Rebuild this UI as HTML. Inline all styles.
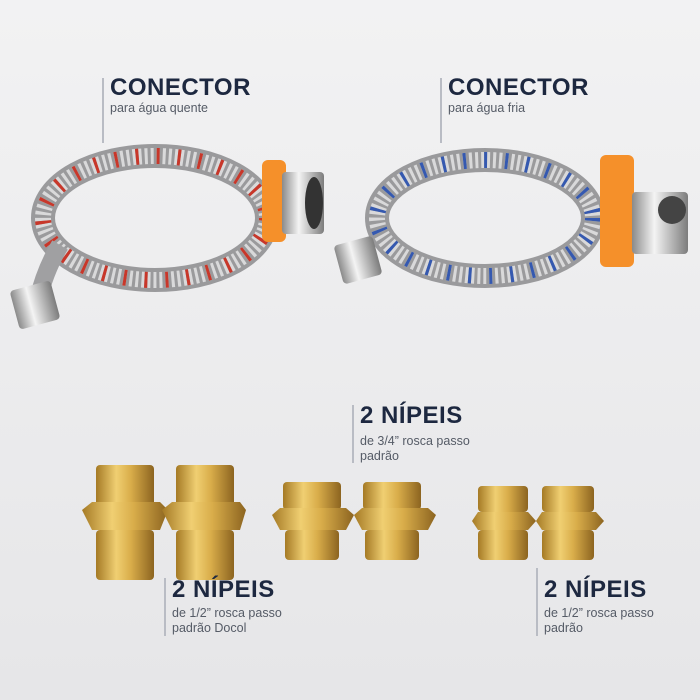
<!DOCTYPE html>
<html><head><meta charset="utf-8"><style>
html,body{margin:0;padding:0}
body{width:700px;height:700px;overflow:hidden;background:#ededee;position:relative;font-family:"Liberation Sans",sans-serif}
svg{position:absolute;left:0;top:0}
.t{position:absolute;color:#1d2840;font-weight:bold;font-size:24px;letter-spacing:0.5px;line-height:1}
.s{position:absolute;color:#555b66;font-size:12.5px;line-height:15px}
.l{position:absolute;width:1.5px;background:#b9bcc4}
</style></head><body>
<svg width="700" height="700" viewBox="0 0 700 700">
<defs>
<linearGradient id="bg" x1="0" y1="0" x2="0" y2="1"><stop offset="0" stop-color="#f2f2f3"/><stop offset="1" stop-color="#e6e6e8"/></linearGradient>
<linearGradient id="br" x1="0" y1="0" x2="1" y2="0"><stop offset="0" stop-color="#a57a25"/><stop offset=".35" stop-color="#f0cf72"/><stop offset=".6" stop-color="#d9ad4a"/><stop offset="1" stop-color="#8c6420"/></linearGradient>
<linearGradient id="ch" x1="0" y1="0" x2="1" y2="0"><stop offset="0" stop-color="#8a8a8a"/><stop offset=".4" stop-color="#f4f4f4"/><stop offset="1" stop-color="#7c7c7c"/></linearGradient>
</defs>
<rect width="700" height="700" fill="url(#bg)"/>
<ellipse cx="155" cy="218" rx="112" ry="62" fill="none" stroke="#9a9a9c" stroke-width="24"/>
<ellipse cx="155" cy="218" rx="112" ry="62" fill="none" stroke="#d9d9da" stroke-width="16" stroke-dasharray="3 3"/>
<ellipse cx="155" cy="218" rx="112" ry="62" fill="none" stroke="#c8372a" stroke-width="16" stroke-dasharray="3 18"/>
<path d="M60 245 Q45 270 38 300" fill="none" stroke="#a0a0a2" stroke-width="18"/>
<rect x="14" y="285" width="42" height="40" rx="4" fill="url(#ch)" transform="rotate(-15 35 305)"/>
<rect x="262" y="160" width="24" height="82" rx="6" fill="#f5902a"/>
<rect x="282" y="172" width="42" height="62" rx="4" fill="url(#ch)"/>
<ellipse cx="314" cy="203" rx="9" ry="26" fill="#333"/>
<ellipse cx="485" cy="218" rx="108" ry="58" fill="none" stroke="#9a9a9c" stroke-width="24"/>
<ellipse cx="485" cy="218" rx="108" ry="58" fill="none" stroke="#d9d9da" stroke-width="16" stroke-dasharray="3 3"/>
<ellipse cx="485" cy="218" rx="108" ry="58" fill="none" stroke="#3559b0" stroke-width="16" stroke-dasharray="3 18"/>
<rect x="338" y="240" width="40" height="40" rx="4" fill="url(#ch)" transform="rotate(-15 358 260)"/>
<rect x="600" y="155" width="34" height="112" rx="6" fill="#f5902a"/>
<rect x="632" y="192" width="56" height="62" rx="4" fill="url(#ch)"/>
<ellipse cx="672" cy="210" rx="14" ry="14" fill="#444"/>
<g fill="url(#br)">
<rect x="96" y="465" width="58" height="42" rx="4"/><polygon points="82,510 92,502 160,502 168,510 160,530 92,530"/><rect x="96" y="530" width="58" height="50" rx="4"/>
<rect x="176" y="465" width="58" height="42" rx="4"/><polygon points="162,510 172,502 240,502 246,510 240,530 172,530"/><rect x="176" y="530" width="58" height="50" rx="4"/>
<rect x="283" y="482" width="58" height="28" rx="4"/><polygon points="272,515 280,508 346,508 354,515 346,530 280,530"/><rect x="285" y="530" width="54" height="30" rx="4"/>
<rect x="363" y="482" width="58" height="28" rx="4"/><polygon points="354,515 362,508 428,508 436,515 428,530 362,530"/><rect x="365" y="530" width="54" height="30" rx="4"/>
<rect x="478" y="486" width="50" height="26" rx="4"/><polygon points="472,521 478,512 528,512 536,521 528,530 478,530"/><rect x="478" y="530" width="50" height="30" rx="4"/>
<rect x="542" y="486" width="52" height="26" rx="4"/><polygon points="536,521 542,512 596,512 604,521 596,530 542,530"/><rect x="542" y="530" width="52" height="30" rx="4"/>
</g>
</svg>
<div class="l" style="left:102px;top:78px;height:65px"></div>
<div class="t" style="left:110px;top:76px">CONECTOR</div>
<div class="s" style="left:110px;top:101px">para água quente</div>
<div class="l" style="left:440px;top:78px;height:65px"></div>
<div class="t" style="left:448px;top:76px">CONECTOR</div>
<div class="s" style="left:448px;top:101px">para água fria</div>
<div class="l" style="left:352px;top:405px;height:58px"></div>
<div class="t" style="left:360px;top:404px">2 NÍPEIS</div>
<div class="s" style="left:360px;top:434px">de 3/4” rosca passo<br>padrão</div>
<div class="l" style="left:164px;top:578px;height:58px"></div>
<div class="t" style="left:172px;top:578px">2 NÍPEIS</div>
<div class="s" style="left:172px;top:606px">de 1/2” rosca passo<br>padrão Docol</div>
<div class="l" style="left:536px;top:568px;height:68px"></div>
<div class="t" style="left:544px;top:578px">2 NÍPEIS</div>
<div class="s" style="left:544px;top:606px">de 1/2” rosca passo<br>padrão</div>
</body></html>
